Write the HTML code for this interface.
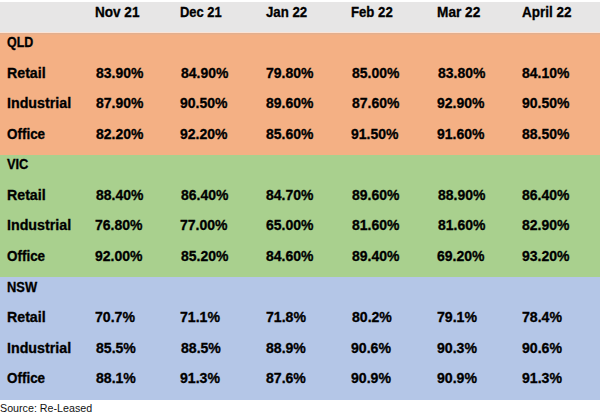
<!DOCTYPE html><html><head><meta charset="utf-8"><style>
html,body{margin:0;padding:0;background:#fff;width:602px;height:414px;overflow:hidden}
body{position:relative;font-family:"Liberation Sans",sans-serif}
.b{position:absolute;left:0;width:600px}
.t,.s{position:absolute;line-height:0;white-space:nowrap;transform-origin:0 0}
.t{font-weight:bold;font-size:14px;color:#000;-webkit-text-stroke:0.3px #000}
.s{font-size:11.3px;color:#111}
</style></head><body>
<div class="b" style="top:2px;height:31px;background:#E7E6E6"></div>
<div class="b" style="top:33px;height:122px;background:#F4B084"></div>
<div class="b" style="top:155px;height:122px;background:#A9D08E"></div>
<div class="b" style="top:277px;height:123px;background:#B4C6E7"></div>
<div class="b" style="top:32px;height:1px;background:#FCE3D5"></div>
<div class="b" style="top:33px;height:1px;background:#E3AF8E"></div>
<div class="b" style="top:34px;height:1px;background:#ECB08A"></div>
<div class="t" style="left:94.85px;top:12px;transform:scaleX(0.9681)">Nov 21</div>
<div class="t" style="left:180.10px;top:12px;transform:scaleX(0.9220)">Dec 21</div>
<div class="t" style="left:266.24px;top:12px;transform:scaleX(0.9461)">Jan 22</div>
<div class="t" style="left:350.88px;top:12px;transform:scaleX(0.9407)">Feb 22</div>
<div class="t" style="left:436.84px;top:12px;transform:scaleX(0.9757)">Mar 22</div>
<div class="t" style="left:521.80px;top:12px;transform:scaleX(0.9643)">April 22</div>
<div class="t" style="left:7.20px;top:42px;transform:scaleX(0.8867)">QLD</div>
<div class="t" style="left:6.81px;top:73px;transform:scaleX(1.0133)">Retail</div>
<div class="t" style="left:95.58px;top:73px;transform:scaleX(0.9974)">83.90%</div>
<div class="t" style="left:180.58px;top:73px;transform:scaleX(0.9974)">84.90%</div>
<div class="t" style="left:266.24px;top:73px;transform:scaleX(1.0004)">79.80%</div>
<div class="t" style="left:351.58px;top:73px;transform:scaleX(0.9974)">85.00%</div>
<div class="t" style="left:437.58px;top:73px;transform:scaleX(0.9974)">83.80%</div>
<div class="t" style="left:522.38px;top:73px;transform:scaleX(0.9974)">84.10%</div>
<div class="t" style="left:6.70px;top:103px;transform:scaleX(1.0174)">Industrial</div>
<div class="t" style="left:95.58px;top:103px;transform:scaleX(0.9974)">87.90%</div>
<div class="t" style="left:180.44px;top:103px;transform:scaleX(1.0004)">90.50%</div>
<div class="t" style="left:266.38px;top:103px;transform:scaleX(0.9974)">89.60%</div>
<div class="t" style="left:351.58px;top:103px;transform:scaleX(0.9974)">87.60%</div>
<div class="t" style="left:437.44px;top:103px;transform:scaleX(1.0004)">92.90%</div>
<div class="t" style="left:522.24px;top:103px;transform:scaleX(1.0004)">90.50%</div>
<div class="t" style="left:7.26px;top:134px;transform:scaleX(0.9601)">Office</div>
<div class="t" style="left:95.58px;top:134px;transform:scaleX(0.9974)">82.20%</div>
<div class="t" style="left:180.44px;top:134px;transform:scaleX(1.0004)">92.20%</div>
<div class="t" style="left:266.38px;top:134px;transform:scaleX(0.9974)">85.60%</div>
<div class="t" style="left:351.44px;top:134px;transform:scaleX(1.0004)">91.50%</div>
<div class="t" style="left:437.44px;top:134px;transform:scaleX(1.0004)">91.60%</div>
<div class="t" style="left:522.38px;top:134px;transform:scaleX(0.9974)">88.50%</div>
<div class="t" style="left:6.87px;top:164px;transform:scaleX(0.9159)">VIC</div>
<div class="t" style="left:6.81px;top:195px;transform:scaleX(1.0133)">Retail</div>
<div class="t" style="left:95.58px;top:195px;transform:scaleX(0.9974)">88.40%</div>
<div class="t" style="left:180.58px;top:195px;transform:scaleX(0.9974)">86.40%</div>
<div class="t" style="left:266.38px;top:195px;transform:scaleX(0.9974)">84.70%</div>
<div class="t" style="left:351.58px;top:195px;transform:scaleX(0.9974)">89.60%</div>
<div class="t" style="left:437.58px;top:195px;transform:scaleX(0.9974)">88.90%</div>
<div class="t" style="left:522.38px;top:195px;transform:scaleX(0.9974)">86.40%</div>
<div class="t" style="left:6.70px;top:225px;transform:scaleX(1.0174)">Industrial</div>
<div class="t" style="left:95.44px;top:225px;transform:scaleX(1.0004)">76.80%</div>
<div class="t" style="left:180.44px;top:225px;transform:scaleX(1.0004)">77.00%</div>
<div class="t" style="left:266.24px;top:225px;transform:scaleX(1.0004)">65.00%</div>
<div class="t" style="left:351.58px;top:225px;transform:scaleX(0.9974)">81.60%</div>
<div class="t" style="left:437.58px;top:225px;transform:scaleX(0.9974)">81.60%</div>
<div class="t" style="left:522.38px;top:225px;transform:scaleX(0.9974)">82.90%</div>
<div class="t" style="left:7.26px;top:256px;transform:scaleX(0.9601)">Office</div>
<div class="t" style="left:95.44px;top:256px;transform:scaleX(1.0004)">92.00%</div>
<div class="t" style="left:180.58px;top:256px;transform:scaleX(0.9974)">85.20%</div>
<div class="t" style="left:266.38px;top:256px;transform:scaleX(0.9974)">84.60%</div>
<div class="t" style="left:351.58px;top:256px;transform:scaleX(0.9974)">89.40%</div>
<div class="t" style="left:437.44px;top:256px;transform:scaleX(1.0004)">69.20%</div>
<div class="t" style="left:522.24px;top:256px;transform:scaleX(1.0004)">93.20%</div>
<div class="t" style="left:6.90px;top:287px;transform:scaleX(0.9197)">NSW</div>
<div class="t" style="left:6.81px;top:317px;transform:scaleX(1.0133)">Retail</div>
<div class="t" style="left:95.44px;top:317px;transform:scaleX(1.0083)">70.7%</div>
<div class="t" style="left:180.44px;top:317px;transform:scaleX(1.0083)">71.1%</div>
<div class="t" style="left:266.24px;top:317px;transform:scaleX(1.0083)">71.8%</div>
<div class="t" style="left:351.58px;top:317px;transform:scaleX(1.0046)">80.2%</div>
<div class="t" style="left:437.44px;top:317px;transform:scaleX(1.0083)">79.1%</div>
<div class="t" style="left:522.24px;top:317px;transform:scaleX(1.0083)">78.4%</div>
<div class="t" style="left:6.70px;top:348px;transform:scaleX(1.0174)">Industrial</div>
<div class="t" style="left:95.58px;top:348px;transform:scaleX(1.0046)">85.5%</div>
<div class="t" style="left:180.58px;top:348px;transform:scaleX(1.0046)">88.5%</div>
<div class="t" style="left:266.38px;top:348px;transform:scaleX(1.0046)">88.9%</div>
<div class="t" style="left:351.44px;top:348px;transform:scaleX(1.0083)">90.6%</div>
<div class="t" style="left:437.44px;top:348px;transform:scaleX(1.0083)">90.3%</div>
<div class="t" style="left:522.24px;top:348px;transform:scaleX(1.0083)">90.6%</div>
<div class="t" style="left:7.26px;top:378px;transform:scaleX(0.9601)">Office</div>
<div class="t" style="left:95.58px;top:378px;transform:scaleX(1.0046)">88.1%</div>
<div class="t" style="left:180.44px;top:378px;transform:scaleX(1.0083)">91.3%</div>
<div class="t" style="left:266.38px;top:378px;transform:scaleX(1.0046)">87.6%</div>
<div class="t" style="left:351.44px;top:378px;transform:scaleX(1.0083)">90.9%</div>
<div class="t" style="left:437.44px;top:378px;transform:scaleX(1.0083)">90.9%</div>
<div class="t" style="left:522.24px;top:378px;transform:scaleX(1.0083)">91.3%</div>
<div class="s" style="left:0.47px;top:408px;transform:scaleX(0.9464)">Source: Re-Leased</div>
</body></html>
